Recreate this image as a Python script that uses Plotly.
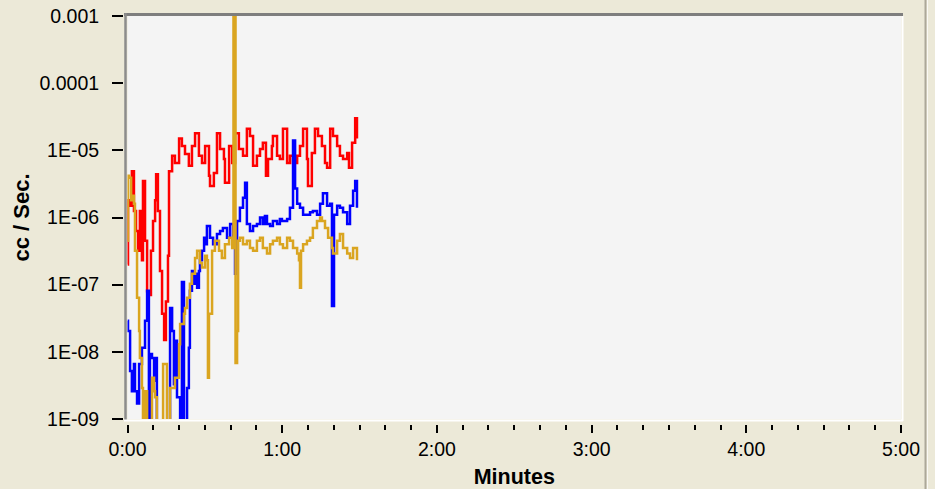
import plotly.graph_objects as go

# ---------------- data (time in seconds, rate in cc/sec) ----------------
red_t = [0, 0.2, 1.0, 1.7, 2.5, 3.3, 4.1, 4.8, 5.6, 6.0, 6.8, 7.6, 8.3, 9.1, 9.9,
         10.7, 11.1, 11.8, 12.6, 13.4, 14.2, 14.9, 15.7, 16.1, 17.3, 18.4, 20.0,
         21.1, 22.3, 23.8, 25.0, 26.2, 27.7, 28.9, 30.1, 31.6, 32.0, 33.5, 34.7,
         35.9, 37.4, 37.8, 39.4, 40.6, 41.7, 43.2, 44.8, 46.3, 47.5, 48.7, 50.2,
         51.4, 52.5, 53.7, 54.5, 56.0, 56.4, 58.0, 59.1, 60.3, 61.9, 63.0, 64.2,
         65.8, 66.9, 68.1, 69.6, 70.0, 71.5, 72.7, 73.9, 75.4, 76.6, 77.4, 78.6,
         79.7, 81.3, 82.4, 83.6, 85.2, 85.9, 87.1, 88.3, 89.0]
red_v = [2e-7, 1.8e-6, 1.5e-6, 4.9e-6, 1.25e-6, 6.3e-7, 3.2e-7, 1.25e-6, 2.3e-7,
         3.5e-6, 4.5e-7, 8e-8, 7e-8, 3.2e-7, 8.9e-7,
         1.8e-6, 4.4e-6, 1.25e-6, 1.6e-7, 3.7e-8, 1.5e-8, 5.6e-8, 2.7e-7, 4.9e-6,
         8.3e-6, 6.5e-6, 1.5e-5,
         1.16e-5, 8.8e-6, 5.9e-6, 1.16e-5, 1.8e-5, 8.3e-6, 6.5e-6, 1.16e-5, 4.2e-6,
         2.95e-6, 4.6e-6, 1.8e-5,
         1.05e-5, 7.4e-6, 3.3e-6, 1.16e-5, 6.5e-6, 1.8e-5, 1.05e-5, 8.3e-6, 2.1e-5,
         1.64e-5, 5.9e-6, 8.3e-6,
         1.05e-5, 1.3e-5, 4.2e-6, 7.4e-6, 1.16e-5, 1.64e-5, 8.3e-6, 7.4e-6, 2.1e-5,
         6.5e-6, 8.3e-6, 6.5e-6,
         8.3e-6, 1.16e-5, 2.1e-5, 7.4e-6, 2.95e-6, 9.1e-6, 2.1e-5, 1.64e-5, 1.16e-5,
         6.5e-6, 5.5e-6, 2.1e-5,
         1.64e-5, 1.16e-5, 8.3e-6, 7.4e-6, 9.1e-6, 5.5e-6, 1.3e-5, 3.0e-5, 1.5e-5]

blue_t = [0, 0.2, 1.0, 1.7, 2.5, 2.9, 3.7, 4.5, 5.6, 6.8, 7.6, 8.3, 8.7, 9.5, 10.3,
          10.7, 11.4, 16.5, 17.3, 18.0, 18.4, 19.2, 20.4, 21.1, 21.9, 23.1, 23.8,
          24.2, 25.0, 25.8, 26.2, 27.0, 27.7, 28.1, 28.9, 29.7, 30.1, 30.8, 32.0,
          33.2, 34.7, 35.9, 37.0, 38.6, 39.8, 41.0, 41.7, 42.5, 43.6, 44.8, 45.6,
          46.3, 47.5, 48.7, 50.2, 51.4, 52.5, 53.3, 54.1, 55.3, 56.4, 58.0, 59.1,
          59.9, 61.9, 63.0, 64.2, 65.0, 65.8, 66.9, 68.1, 69.6, 70.8, 71.9, 73.5,
          74.7, 75.8, 77.4, 78.6, 79.3, 80.1, 81.3, 82.4, 83.6, 85.2, 86.3, 87.5,
          88.3, 89.0]
blue_v = [2.9e-8, 2.05e-8, 5.2e-9, 2.6e-9, 6.6e-9, 2.6e-9, 1.7e-9, 6.6e-9, 1.15e-8,
          2.9e-8, 8.1e-8, 5e-10, 9.3e-9, 8.1e-9, 3.7e-9,
          8.1e-9, 5e-10, 4.5e-8, 2.05e-8, 3.3e-9, 1.46e-8, 2.1e-9, 5e-10, 1.1e-7,
          5e-10, 2.9e-9, 1.15e-8,
          8.1e-8, 1.6e-7, 1.03e-7, 1.45e-7, 9e-8, 1.6e-7, 2.3e-7, 3.2e-7, 5e-7,
          4e-7, 7.5e-7, 5e-7,
          4e-7, 5.7e-7, 6.3e-7, 7e-7, 5e-7, 8e-7, 4.5e-7, 1.45e-7, 8.9e-7, 1.4e-6,
          1.96e-6, 3.3e-6,
          8e-7, 6.3e-7, 7.5e-7, 8e-7, 1.0e-6, 8e-7, 1.05e-6, 8e-7, 7.5e-7, 8.9e-7,
          8e-7, 9.5e-7,
          8.9e-7, 9.5e-7, 1.4e-6, 1.4e-5, 2.7e-6, 1.6e-6, 1.4e-6, 1.1e-6, 1.1e-6,
          1.2e-6, 1.25e-6, 1.1e-6,
          1.6e-6, 2.3e-6, 1.5e-6, 1.6e-6, 4.8e-8, 1.1e-6, 1.5e-6, 1.4e-6, 1.2e-6,
          8e-7, 1.5e-6, 2.5e-6,
          3.5e-6, 1.4e-6]

gold_t = [0, 0.2, 0.6, 1.4, 2.1, 2.5, 2.9, 3.7, 4.5, 4.8, 5.6, 6.0, 6.8, 7.6, 9.5,
          10.3, 10.7, 11.4, 13.8, 15.3, 16.5, 18.4, 20.0, 20.4, 21.9, 22.3, 23.1,
          24.2, 25.0, 26.2, 27.0, 28.1, 28.9, 30.1, 30.8, 31.2, 31.6, 32.8, 33.9,
          35.5, 36.6, 37.8, 39.4, 40.6, 41.1, 41.9, 42.5, 42.9, 43.6, 44.8, 46.3,
          47.5, 48.7, 50.2, 51.4, 52.5, 54.1, 55.3, 56.4, 58.0, 59.1, 60.3, 61.9,
          63.0, 64.2, 65.8, 66.5, 66.9, 67.3, 68.1, 69.6, 70.8, 71.9, 73.5, 74.7,
          75.4, 76.6, 77.8, 79.3, 79.7, 81.3, 82.4, 83.6, 85.2, 86.3, 87.5, 89.0]
gold_v = [4.5e-7, 4.2e-6, 3.9e-6, 1.8e-6, 2.1e-6, 1.6e-6, 3.2e-7, 6.4e-8, 2.05e-8,
          8.1e-9, 2.9e-9, 5e-10, 2.6e-9, 5e-10, 4.1e-9,
          2.6e-9, 2.1e-9, 5e-10, 6.6e-9, 5e-10, 2.9e-9, 4.1e-9, 1.3e-8, 2.6e-8,
          3.7e-8, 4.5e-8, 6.4e-8,
          1.03e-7, 1.45e-7, 2.5e-7, 3.2e-7, 2.1e-7, 1.8e-7, 2.7e-7, 2.3e-7, 4.1e-9,
          3.7e-8, 3.2e-7, 4.5e-7,
          3.2e-7, 2.5e-7, 4e-7, 5e-7, 3.5e-7, 5e-3, 6.8e-9, 2.05e-8, 4.5e-7, 5e-7,
          4e-7, 4.5e-7,
          3.5e-7, 3.2e-7, 4.5e-7, 5e-7, 3.5e-7, 2.9e-7, 4e-7, 4.5e-7, 5e-7, 4e-7,
          3.5e-7, 5e-7,
          4.5e-7, 3.5e-7, 2.9e-7, 2.3e-7, 9e-8, 3.2e-7, 4e-7, 4.5e-7, 5e-7, 7e-7,
          8.9e-7, 1.0e-6,
          8.9e-7, 7e-7, 5e-7, 3.5e-7, 2.9e-7, 4.5e-7, 5.7e-7, 3.5e-7, 2.9e-7,
          2.5e-7, 3.5e-7, 2.3e-7]

x_tickvals = [0, 1, 2, 3, 4, 5]
x_ticktext = ["0:00", "1:00", "2:00", "3:00", "4:00", "5:00"]
y_tickvals = [1e-9, 1e-8, 1e-7, 1e-6, 1e-5, 1e-4, 1e-3]
y_ticktext = ["1E-09", "1E-08", "1E-07", "1E-06", "1E-05", "0.0001", "0.001"]

# ---------------- layout helpers ----------------
W, H = 935, 489
def px(x):
    return x / W
def py(y):
    return 1 - y / H

FONT = "Liberation Sans, Arial, sans-serif"
BG = "#ECE9D8"

fig = go.Figure()
for t, v, col in [(red_t, red_v, "#FF0000"), (blue_t, blue_v, "#0000FF"),
                  (gold_t, gold_v, "#DAA520")]:
    assert len(t) == len(v)
    fig.add_trace(go.Scatter(
        x=[s / 60.0 for s in t], y=v, mode="lines",
        line=dict(color=col, width=2.5, shape="hv"),
        showlegend=False, hoverinfo="skip"))

fig.update_layout(
    width=W, height=H,
    margin=dict(l=0, r=0, t=0, b=0),
    paper_bgcolor=BG,
    plot_bgcolor="#F4F4F4",
    font=dict(family=FONT, size=19.5, color="#000000"),
    xaxis=dict(
        domain=[px(127.5), px(901)],
        range=[0, 5],
        anchor="free", position=py(424),
        tickmode="array", tickvals=x_tickvals, ticktext=x_ticktext,
        ticks="outside", ticklen=8, tickwidth=1.5, tickcolor="#000000",
        minor=dict(tickmode="linear", tick0=0, dtick=1/6, ticks="outside",
                   ticklen=5, tickwidth=1.5, tickcolor="#000000"),
        showgrid=False, zeroline=False, showline=False,
        ticklabelstandoff=0,
        title=dict(text="<b>Minutes</b>", font=dict(size=21.5), standoff=11),
        automargin=False,
    ),
    yaxis=dict(
        type="log",
        domain=[py(419), py(16)],
        range=[-9, -3],
        anchor="free", position=px(123),
        tickmode="array", tickvals=y_tickvals, ticktext=y_ticktext,
        ticks="outside", ticklen=11, tickwidth=1.5, tickcolor="#000000",
        showgrid=False, zeroline=False, showline=False,
        ticklabelstandoff=9,
        title=dict(text="<b>cc / Sec.</b>", font=dict(size=22), standoff=2),
        automargin=False,
    ),
)

shapes = [
    # sunken frame of the plot area
    dict(type="line", x0=px(124), x1=px(903), y0=py(14.5), y1=py(14.5),
         line=dict(color="#7E7E7E", width=3)),
    dict(type="line", x0=px(125.5), x1=px(125.5), y0=py(13), y1=py(421),
         line=dict(color="#8C8C8C", width=2.5)),
    dict(type="line", x0=px(124), x1=px(903), y0=py(420.5), y1=py(420.5),
         line=dict(color="#FFFFFF", width=2)),
    dict(type="line", x0=px(902.5), x1=px(902.5), y0=py(16), y1=py(421),
         line=dict(color="#FFFFFF", width=2)),
    # window frame on the right
    dict(type="line", x0=px(925.5), x1=px(925.5), y0=0, y1=1,
         line=dict(color="#ACA899", width=2)),
    dict(type="line", x0=px(927.5), x1=px(927.5), y0=0, y1=1,
         line=dict(color="#FAF9F4", width=1)),
]
for s in shapes:
    s.update(xref="paper", yref="paper", layer="above")
fig.update_layout(shapes=shapes)

fig.write_html(
    "out.html",
    config={"displayModeBar": False},
    post_script=("document.body.style.margin='0';"
                 "document.body.style.padding='0';"
                 "document.body.style.background='" + BG + "';"),
)
